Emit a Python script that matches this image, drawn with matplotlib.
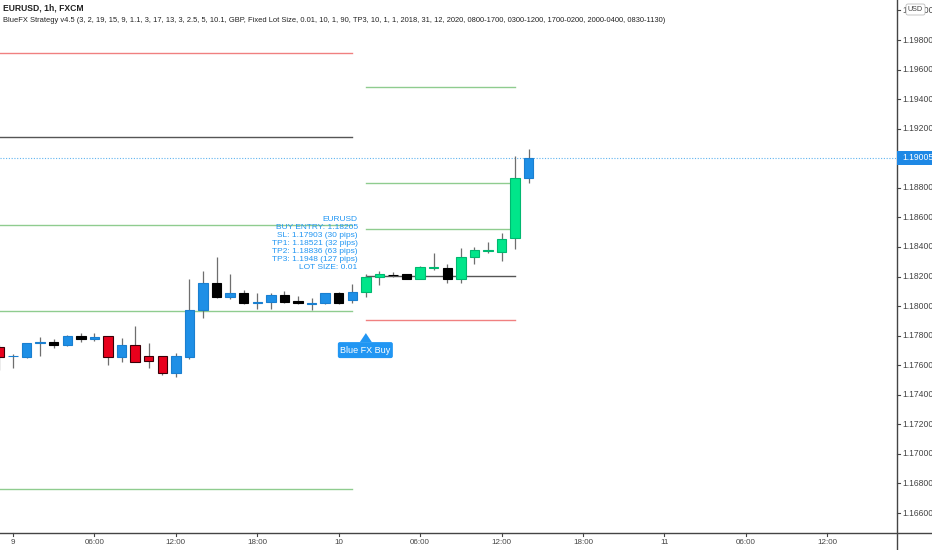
import matplotlib
matplotlib.use("Agg")
import matplotlib.pyplot as plt
import matplotlib.transforms as mtransforms
from matplotlib.patches import Rectangle, Polygon, FancyBboxPatch
from matplotlib.lines import Line2D

plt.rcParams['font.family'] = ['Liberation Sans Narrow', 'Liberation Sans', 'DejaVu Sans']

# ---------------- data ----------------
title_main = "EURUSD, 1h, FXCM"
title_strategy = ("BlueFX Strategy v4.5 (3, 2, 19, 15, 9, 1.1, 3, 17, 13, 3, 2.5, 5, 10.1, GBP, "
                  "Fixed Lot Size, 0.01, 10, 1, 90, TP3, 10, 1, 1, 2018, 31, 12, 2020, "
                  "0800-1700, 0300-1200, 1700-0200, 2000-0400, 0830-1130)")

# hour index relative to day 9 00:00
hours = list(range(-1, 39))
opens = [1.17723, 1.17660, 1.17655, 1.17748, 1.17757, 1.17736, 1.17797, 1.17777, 1.17797, 1.17655,
         1.17736, 1.17662, 1.17662, 1.17547, 1.17655, 1.17973, 1.18156, 1.18061, 1.18088, 1.18031,
         1.18027, 1.18075, 1.18034, 1.18017, 1.18021, 1.18088, 1.18041, 1.18095, 1.18196, 1.18210,
         1.18217, 1.18183, 1.18257, 1.18257, 1.18183, 1.18332, 1.18372, 1.18366, 1.18460, 1.18866]
highs = [1.17736, 1.17675, 1.17752, 1.17790, 1.17777, 1.17804, 1.17818, 1.17818, 1.17797, 1.17784,
         1.17865, 1.17750, 1.17662, 1.17682, 1.18183, 1.18237, 1.18332, 1.18217, 1.18108, 1.18088,
         1.18088, 1.18102, 1.18068, 1.18054, 1.18088, 1.18095, 1.18149, 1.18217, 1.18237, 1.18230,
         1.18217, 1.18271, 1.18359, 1.18284, 1.18393, 1.18399, 1.18433, 1.18494, 1.19015, 1.19062]
lows = [1.17567, 1.17581, 1.17648, 1.17662, 1.17716, 1.17730, 1.17757, 1.17763, 1.17601, 1.17621,
        1.17621, 1.17581, 1.17533, 1.17520, 1.17645, 1.17919, 1.18054, 1.18048, 1.18014, 1.17980,
        1.17980, 1.18021, 1.18014, 1.17973, 1.18014, 1.18014, 1.18021, 1.18061, 1.18142, 1.18196,
        1.18183, 1.18183, 1.18244, 1.18156, 1.18156, 1.18284, 1.18359, 1.18305, 1.18386, 1.18832]
closes = [1.17655, 1.17664, 1.17750, 1.17759, 1.17736, 1.17797, 1.17777, 1.17794, 1.17655, 1.17736,
          1.17621, 1.17628, 1.17547, 1.17662, 1.17977, 1.18156, 1.18061, 1.18088, 1.18021, 1.18024,
          1.18075, 1.18027, 1.18021, 1.18024, 1.18088, 1.18021, 1.18095, 1.18196, 1.18217, 1.18212,
          1.18183, 1.18264, 1.18264, 1.18183, 1.18332, 1.18379, 1.18379, 1.18454, 1.18866, 1.19005]
bar_kind = ['r', 'b', 'b', 'b', 'k', 'b', 'k', 'b', 'r', 'b',
            'r', 'r', 'r', 'b', 'b', 'b', 'k', 'b', 'k', 'b',
            'b', 'k', 'k', 'b', 'b', 'k', 'b', 'g', 'g', 'k',
            'k', 'g', 'g', 'k', 'g', 'g', 'g', 'g', 'g', 'b']

# previous trade levels (left) and current buy trade levels (right)
prev_levels = [1.19712, 1.19144, 1.18548, 1.17967, 1.16762]
prev_kinds = ['sl', 'entry', 'tp', 'tp', 'tp']
prev_span = (-2, 25)
buy_entry = 1.18205
buy_sl = 1.17903
buy_tps = [1.18521, 1.18836, 1.1948]
buy_span = (26, 37)
signal_hour = 26
last_price = 1.19005

info_lines = ["EURUSD", "BUY ENTRY: 1.18205", "SL: 1.17903 (30 pips)", "TP1: 1.18521 (32 pips)",
              "TP2: 1.18836 (63 pips)", "TP3: 1.1948 (127 pips)", "LOT SIZE: 0.01"]

price_ticks = [1.166, 1.168, 1.170, 1.172, 1.174, 1.176, 1.178, 1.180, 1.182, 1.184,
               1.186, 1.188, 1.192, 1.194, 1.196, 1.198, 1.200]
time_ticks = [0, 6, 12, 18, 24, 30, 36, 42, 48, 54, 60]
time_labels = ["9", "06:00", "12:00", "18:00", "10", "06:00", "12:00", "18:00", "11", "06:00", "12:00"]

# ---------------- styles ----------------
face = {'r': '#e8001c', 'b': '#1e8fe6', 'k': '#000000', 'g': '#00e68a'}
edge = {'r': '#3a0008', 'b': '#1a7fd0', 'k': '#000000', 'g': '#00b870'}
wick_col = '#6e6e6e'
level_col = {'sl': '#f08080', 'entry': '#555555', 'tp': '#8fcc8f'}
blue = '#2196f3'

W, H = 932, 550
fig = plt.figure(figsize=(W / 100, H / 100), dpi=100)
ax_right_px = 897
ax_bottom_px = 533
ax = fig.add_axes([0, (H - ax_bottom_px) / H, ax_right_px / W, ax_bottom_px / H])
ax.set_xlim(-0.96, 65.14)
ax.set_ylim(1.16465, 1.20071)
for s in ax.spines.values():
    s.set_visible(False)
ax.set_xticks([])
ax.set_yticks([])

# last price dotted line
ax.axhline(last_price, color='#5fb4f0', lw=0.8, ls=(0, (1, 1.5)), zorder=1)

# level lines
for lv, kd in zip(prev_levels, prev_kinds):
    ax.plot(prev_span, [lv, lv], color=level_col[kd], lw=1.0, zorder=1)
ax.plot(buy_span, [buy_entry, buy_entry], color=level_col['entry'], lw=1.0, zorder=1)
ax.plot(buy_span, [buy_sl, buy_sl], color=level_col['sl'], lw=1.0, zorder=1)
for tp in buy_tps:
    ax.plot(buy_span, [tp, tp], color=level_col['tp'], lw=1.0, zorder=1)

# candles
bw = 0.7
for h, o, hi, lo, c, k in zip(hours, opens, highs, lows, closes, bar_kind):
    ax.plot([h, h], [lo, hi], color=wick_col, lw=0.9, zorder=2, solid_capstyle='butt')
    bot = min(o, c)
    ht = max(abs(c - o), 0.000025)
    ax.add_patch(Rectangle((h - bw / 2, bot), bw, ht, facecolor=face[k], edgecolor=edge[k],
                           lw=0.8, zorder=3))

# info text, one line at a time
n = len(info_lines)
for i, line in enumerate(info_lines):
    dy = 8 + (n - 1 - i) * 8.1
    tr = mtransforms.offset_copy(ax.transData, fig=fig, x=0, y=dy, units='dots')
    ax.text(25.4, buy_entry, line, transform=tr, ha='right', va='center', color=blue,
            fontsize=6.0, zorder=4)

# Blue FX Buy label
sig_low = lows[hours.index(signal_hour)]
px = ax.transData.transform((signal_hour, sig_low))
apex = (px[0], px[1] - 36)
tri = Polygon([[apex[0], apex[1]], [apex[0] - 6, apex[1] - 9], [apex[0] + 6, apex[1] - 9]],
              closed=True, transform=None, facecolor=blue, edgecolor='none', zorder=5)
fig.patches.append(tri)
box_w, box_h = 55, 16
box = FancyBboxPatch((apex[0] - box_w / 2 - 0.5, apex[1] - 9 - box_h), box_w, box_h,
                     boxstyle="round,pad=0,rounding_size=2", transform=None,
                     facecolor=blue, edgecolor='none', zorder=5)
fig.patches.append(box)
fig.text((apex[0] - 0.5) / W, (apex[1] - 9 - box_h / 2) / H, "Blue FX Buy", color='white',
         fontsize=6.5, ha='center', va='center', zorder=6)

# axes frame lines (extend across figure)
fig.add_artist(Line2D([0, 1], [(H - ax_bottom_px) / H] * 2, color='#444444', lw=1.0,
                      transform=fig.transFigure))
fig.add_artist(Line2D([ax_right_px / W] * 2, [0, 1], color='#444444', lw=1.0,
                      transform=fig.transFigure))

# price axis ticks and labels
y0, y1 = ax.get_ylim()
for p in price_ticks:
    yf = (H - ax_bottom_px) / H + (p - y0) / (y1 - y0) * ax_bottom_px / H
    fig.add_artist(Line2D([ax_right_px / W, (ax_right_px + 3) / W], [yf, yf], color='#444444',
                          lw=0.8, transform=fig.transFigure))
    fig.text((ax_right_px + 5) / W, yf, f"{p:.5f}", fontsize=6.2, color='#444444',
             ha='left', va='center', zorder=1)

# time axis ticks and labels
x0, x1 = ax.get_xlim()
for t, lab in zip(time_ticks, time_labels):
    xf = (t - x0) / (x1 - x0) * ax_right_px / W
    yb = (H - ax_bottom_px) / H
    fig.add_artist(Line2D([xf, xf], [yb, yb - 3 / H], color='#444444', lw=0.8,
                          transform=fig.transFigure))
    fig.text(xf, (H - 543) / H, lab, fontsize=5.8, color='#444444', ha='center', va='center')

# last price label box
yf_last = (H - ax_bottom_px) / H + (last_price - y0) / (y1 - y0) * ax_bottom_px / H
yl_px = yf_last * H
fig.patches.append(Rectangle((ax_right_px, yl_px - 7), W - ax_right_px, 14, transform=None,
                             facecolor='#1e88e5', edgecolor='none', zorder=5))
fig.text((ax_right_px + 5) / W, yf_last, f"{last_price:.5f}", fontsize=6.2, color='white',
         ha='left', va='center', zorder=6)

# USD box
fig.patches.append(FancyBboxPatch((906, H - 15), 19, 11, boxstyle="round,pad=0,rounding_size=2",
                                  transform=None, facecolor='white', edgecolor='#bbbbbb', lw=0.6,
                                  zorder=5))
fig.text(915.5 / W, (H - 9.5) / H, "USD", fontsize=5.2, color='#444444', ha='center',
         va='center', zorder=6)

# titles
t1 = fig.text(3 / W, (H - 8) / H, title_main, fontsize=6.8, color='#222222', fontweight='bold',
              ha='left', va='center')
t2 = fig.text(3 / W, (H - 20) / H, title_strategy, fontsize=6.8, color='#222222',
              ha='left', va='center')
r = fig.canvas.get_renderer()
w1 = t1.get_window_extent(renderer=r).width
t1.set_fontsize(6.8 * 82 / w1)
w2 = t2.get_window_extent(renderer=r).width
t2.set_fontsize(6.8 * 657 / w2)

fig.savefig("out.png", dpi=100)
